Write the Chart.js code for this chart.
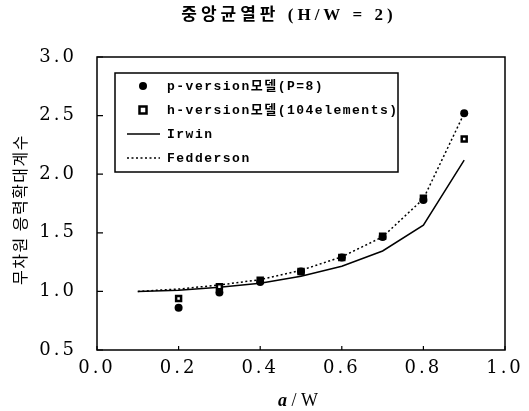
<!DOCTYPE html>
<html lang="ko">
<head>
    <meta charset="UTF-8">
    <title>중앙균열판 (H/W = 2)</title>
    <script src="https://cdn.jsdelivr.net/npm/chart.js"></script>
    <style>
        body { margin: 0; background: #fff; }
        .wrap { width: 529px; height: 411px; }
    </style>
</head>
<body>
    <div class="wrap"><canvas id="sifChart" width="529" height="411"></canvas></div>

    <script>
        // a/W 값과 각 해석 결과
        const markerX = [0.2, 0.3, 0.4, 0.5, 0.6, 0.7, 0.8, 0.9];
        const pVersion = [0.86, 0.99, 1.08, 1.17, 1.29, 1.465, 1.78, 2.52];
        const hVersion = [0.94, 1.04, 1.095, 1.17, 1.29, 1.47, 1.795, 2.30];

        const curveX = [0.1, 0.2, 0.3, 0.4, 0.5, 0.6, 0.7, 0.8, 0.9];
        const irwin = [1.0, 1.01, 1.035, 1.07, 1.13, 1.215, 1.345, 1.565, 2.12];
        const fedderson = [1.0, 1.02, 1.055, 1.10, 1.18, 1.295, 1.465, 1.79, 2.52];

        const xTicks = [0, 0.2, 0.4, 0.6, 0.8, 1.0];
        const yTicks = [0.5, 1.0, 1.5, 2.0, 2.5, 3.0];

        const titleText = '중앙균열판 (H/W = 2)';
        const yTitle = '무차원 응력확대계수';

        const pts = (xs, ys) => xs.map((x, i) => ({ x: x, y: ys[i] }));

        // 제목, 축 제목, 안쪽 눈금, 범례 상자
        const paperDecor = {
            id: 'paperDecor',
            beforeDraw(chart) {
                chart.ctx.letterSpacing = '3px';
            },
            afterDraw(chart) {
                const ctx = chart.ctx;
                const a = chart.chartArea;
                const xs = chart.scales.x, ys = chart.scales.y;
                ctx.save();
                ctx.strokeStyle = '#000';
                ctx.lineWidth = 1.5;
                ctx.strokeRect(a.left, a.top, a.right - a.left, a.bottom - a.top);

                ctx.lineWidth = 1.2;
                ctx.beginPath();
                yTicks.forEach(v => {
                    const y = ys.getPixelForValue(v);
                    ctx.moveTo(a.left, y); ctx.lineTo(a.left + 6, y);
                });
                xTicks.forEach(v => {
                    const x = xs.getPixelForValue(v);
                    ctx.moveTo(x, a.bottom); ctx.lineTo(x, a.bottom - 4);
                });
                ctx.stroke();

                ctx.fillStyle = '#000';
                ctx.textBaseline = 'middle';

                // 제목
                ctx.letterSpacing = '4px';
                ctx.font = "bold 17px 'Liberation Serif', 'Noto Sans CJK KR'";
                ctx.textAlign = 'center';
                ctx.fillText(titleText, 289, 16);

                // y축 제목
                ctx.save();
                ctx.translate(20, (a.top + a.bottom) / 2 + 6);
                ctx.rotate(-Math.PI / 2);
                ctx.letterSpacing = '1.5px';
                ctx.font = "16px 'Noto Sans CJK KR'";
                ctx.fillText(yTitle, 0, 0);
                ctx.restore();

                // x축 제목
                ctx.letterSpacing = '0px';
                ctx.textAlign = 'left';
                ctx.font = "italic bold 18px 'Liberation Serif'";
                ctx.fillText('a', 278, 401);
                ctx.font = "18px 'Liberation Serif'";
                ctx.fillText(' / W', 287, 401);

                // 범례
                const box = { l: 115, t: 73, r: 398, b: 172 };
                ctx.fillStyle = '#fff';
                ctx.fillRect(box.l, box.t, box.r - box.l, box.b - box.t);
                ctx.lineWidth = 1.5;
                ctx.strokeRect(box.l, box.t, box.r - box.l, box.b - box.t);
                ctx.fillStyle = '#000';
                ctx.font = "bold 13px 'Liberation Mono', 'Noto Sans CJK KR'";
                ctx.letterSpacing = '1.5px';
                chart.data.datasets.forEach((ds, i) => {
                    const y = box.t + 13 + i * 24;
                    if (ds.showLine) {
                        ctx.save();
                        ctx.lineWidth = ds.borderWidth;
                        ctx.setLineDash(ds.borderDash || []);
                        ctx.beginPath();
                        ctx.moveTo(127, y); ctx.lineTo(160, y);
                        ctx.stroke();
                        ctx.restore();
                    } else if (ds.pointStyle === 'circle') {
                        ctx.beginPath();
                        ctx.arc(143, y, ds.pointRadius, 0, Math.PI * 2);
                        ctx.fill();
                    } else {
                        const r = ds.pointRadius;
                        ctx.save();
                        ctx.fillStyle = ds.pointBackgroundColor;
                        ctx.fillRect(143 - r, y - r, 2 * r, 2 * r);
                        ctx.lineWidth = ds.pointBorderWidth;
                        ctx.strokeRect(143 - r, y - r, 2 * r, 2 * r);
                        ctx.restore();
                    }
                    ctx.fillText(ds.label, 167, y + 1);
                });
                ctx.restore();
            }
        };

        new Chart(document.getElementById('sifChart'), {
            type: 'scatter',
            data: {
                datasets: [{
                    label: 'p-version모델(P=8)',
                    data: pts(markerX, pVersion),
                    showLine: false,
                    pointStyle: 'circle',
                    pointRadius: 4,
                    pointBackgroundColor: '#000',
                    pointBorderColor: '#000',
                    pointBorderWidth: 0
                }, {
                    label: 'h-version모델(104elements)',
                    data: pts(markerX, hVersion),
                    showLine: false,
                    pointStyle: 'rect',
                    pointRadius: 3.5,
                    pointBackgroundColor: '#fff',
                    pointBorderColor: '#000',
                    pointBorderWidth: 2.5
                }, {
                    label: 'Irwin',
                    data: pts(curveX, irwin),
                    showLine: true,
                    borderColor: '#000',
                    borderWidth: 1.5,
                    pointRadius: 0
                }, {
                    label: 'Fedderson',
                    data: pts(curveX, fedderson),
                    showLine: true,
                    borderColor: '#000',
                    borderWidth: 1.5,
                    borderDash: [2, 2.5],
                    pointRadius: 0
                }]
            },
            options: {
                responsive: false,
                animation: false,
                layout: { padding: { left: 0, top: 57, right: 24, bottom: 0 } },
                plugins: {
                    legend: { display: false },
                    tooltip: { enabled: false }
                },
                scales: {
                    x: {
                        type: 'linear',
                        min: 0, max: 1.0,
                        afterBuildTicks: s => { s.ticks = xTicks.map(v => ({ value: v })); },
                        grid: { display: false, drawTicks: false },
                        border: { display: false },
                        ticks: {
                            padding: 8,
                            color: '#000',
                            maxRotation: 0,
                            font: { family: "'DejaVu Serif'", size: 18 },
                            callback: v => v.toFixed(1)
                        },
                        afterFit: s => { s.height = 61; }
                    },
                    y: {
                        min: 0.5, max: 3.0,
                        afterBuildTicks: s => { s.ticks = yTicks.map(v => ({ value: v })); },
                        grid: { display: false, drawTicks: false },
                        border: { display: false },
                        ticks: {
                            padding: 20,
                            color: '#000',
                            font: { family: "'DejaVu Serif'", size: 18 },
                            callback: v => v.toFixed(1)
                        },
                        afterFit: s => { s.width = 97; }
                    }
                }
            },
            plugins: [paperDecor]
        });
    </script>
</body>
</html>
